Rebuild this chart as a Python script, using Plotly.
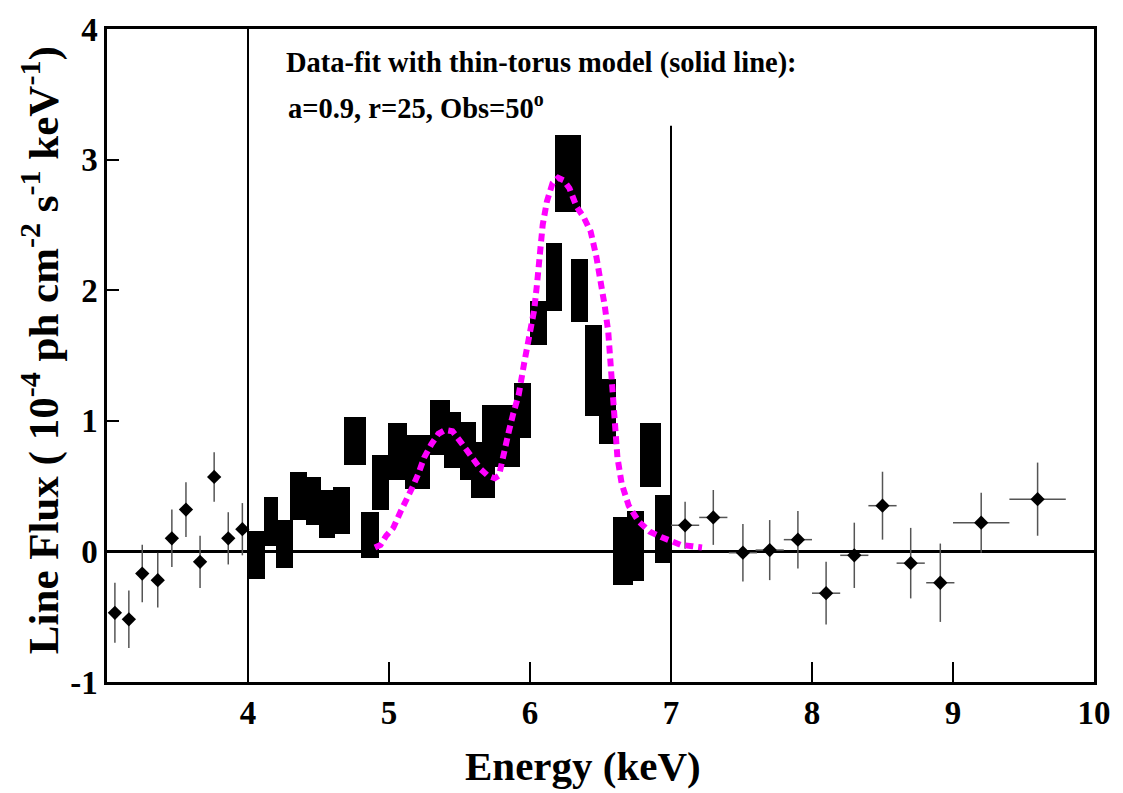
import plotly.graph_objects as go

# ---------------- data ----------------
# low-energy points (3-4 keV)
low_e = [3.056, 3.155, 3.25, 3.36, 3.46, 3.56, 3.66, 3.76, 3.86, 3.96]
low_f = [-0.47, -0.52, -0.17, -0.22, 0.10, 0.32, -0.08, 0.57, 0.10, 0.17]
low_ferr = [0.23, 0.22, 0.22, 0.21, 0.22, 0.21, 0.20, 0.19, 0.20, 0.20]
low_eerr = [0.03, 0.03, 0.03, 0.03, 0.03, 0.03, 0.03, 0.03, 0.03, 0.03]

# high-energy points (7-10 keV)
high_e = [7.10, 7.30, 7.51, 7.70, 7.90, 8.10, 8.30, 8.50, 8.70, 8.91, 9.20, 9.60]
high_f = [0.20, 0.26, -0.01, 0.01, 0.09, -0.32, -0.03, 0.35, -0.09, -0.24, 0.22, 0.40]
high_ferr = [0.18, 0.21, 0.22, 0.23, 0.22, 0.24, 0.25, 0.26, 0.27, 0.30, 0.23, 0.28]
high_eerr = [0.10, 0.10, 0.10, 0.10, 0.10, 0.10, 0.10, 0.10, 0.10, 0.10, 0.20, 0.20]

# line-region error boxes (4-7 keV)
box_e_lo = [3.99, 4.11, 4.20, 4.30, 4.41, 4.50, 4.60, 4.68, 4.80, 4.88, 4.99, 5.11, 5.29, 5.39, 5.50,
            5.58, 5.66, 5.82, 5.89, 6.00, 6.11, 6.18, 6.29, 6.39, 6.49, 6.59, 6.69, 6.78, 6.89]
box_e_hi = [4.12, 4.21, 4.32, 4.42, 4.52, 4.62, 4.72, 4.84, 4.93, 5.00, 5.13, 5.29, 5.43, 5.51, 5.62,
            5.75, 5.84, 5.93, 6.01, 6.12, 6.23, 6.36, 6.41, 6.51, 6.61, 6.73, 6.81, 6.93, 6.99]
box_f_lo = [-0.21, 0.04, -0.13, 0.24, 0.20, 0.10, 0.13, 0.66, -0.05, 0.32, 0.55, 0.48, 0.74, 0.64, 0.55,
            0.41, 0.65, 0.65, 0.87, 1.58, 1.84, 2.60, 1.76, 1.04, 0.82, -0.26, -0.23, 0.49, -0.09]
box_f_hi = [0.16, 0.42, 0.24, 0.61, 0.57, 0.47, 0.49, 1.03, 0.30, 0.74, 0.98, 0.89, 1.16, 1.07, 0.99,
            0.84, 1.12, 1.12, 1.29, 1.92, 2.36, 3.19, 2.24, 1.73, 1.32, 0.26, 0.31, 0.98, 0.43]

# thin-torus model curve
model_e = [4.90, 4.94, 4.98, 5.03, 5.08, 5.13, 5.17, 5.21, 5.25, 5.30, 5.35, 5.40, 5.45, 5.50, 5.55,
           5.60, 5.65, 5.70, 5.75, 5.78, 5.81, 5.85, 5.88, 5.92, 5.96, 6.00, 6.03, 6.05, 6.07, 6.09,
           6.12, 6.16, 6.20, 6.24, 6.28, 6.33, 6.38, 6.43, 6.47, 6.50, 6.53, 6.555, 6.57, 6.585, 6.60,
           6.62, 6.65, 6.70, 6.77, 6.85, 6.93, 7.00, 7.07, 7.15, 7.22]
model_f = [0.03, 0.05, 0.12, 0.18, 0.30, 0.40, 0.50, 0.60, 0.72, 0.82, 0.90, 0.93, 0.92, 0.85, 0.78,
           0.70, 0.63, 0.58, 0.56, 0.58, 0.75, 0.92, 1.05, 1.20, 1.45, 1.65, 1.85, 2.05, 2.30, 2.50,
           2.68, 2.82, 2.86, 2.84, 2.78, 2.64, 2.56, 2.45, 2.26, 2.08, 1.88, 1.68, 1.48, 1.25, 0.95,
           0.72, 0.52, 0.35, 0.23, 0.15, 0.11, 0.08, 0.05, 0.04, 0.03]

# analysis window edges (vertical reference lines)
window_e = [4.0, 7.0]
window_top = [4.0, 3.26]

x_ticks = [4, 5, 6, 7, 8, 9, 10]
y_ticks = [-1, 0, 1, 2, 3, 4]

FONT = "Liberation Serif"

fig = go.Figure()

# vertical window lines
for e, top in zip(window_e, window_top):
    fig.add_trace(go.Scatter(x=[e, e], y=[-1, top], mode="lines",
                             line=dict(color="black", width=2), showlegend=False, hoverinfo="skip"))

# error boxes
fig.add_trace(go.Bar(
    x=[(a + b) / 2 for a, b in zip(box_e_lo, box_e_hi)],
    width=[b - a for a, b in zip(box_e_lo, box_e_hi)],
    base=box_f_lo,
    y=[h - l for l, h in zip(box_f_lo, box_f_hi)],
    marker=dict(color="black", line=dict(width=0)),
    showlegend=False,
))

err_style = dict(type="data", color="#555555", thickness=1.5, width=0)
for xs, ys, xe, ye in [(low_e, low_f, low_eerr, low_ferr), (high_e, high_f, high_eerr, high_ferr)]:
    fig.add_trace(go.Scatter(
        x=xs, y=ys, mode="markers",
        marker=dict(symbol="diamond", size=11, color="black"),
        error_y=dict(array=ye, **err_style),
        error_x=dict(array=xe, **err_style),
        showlegend=False,
    ))

# model curve
fig.add_trace(go.Scatter(
    x=model_e, y=model_f, mode="lines",
    line=dict(color="#FF00FF", width=6, dash="8px,5px"),
    showlegend=False,
))

fig.update_layout(
    width=1123, height=793,
    margin=dict(l=107, r=23, t=20, b=111),
    paper_bgcolor="white", plot_bgcolor="white",
    barmode="overlay", bargap=0,
    font=dict(family=FONT, color="black", size=33, weight="bold"),
)

fig.update_xaxes(
    range=[3, 10], tickvals=x_ticks, ticktext=[str(t) for t in x_ticks],
    ticks="inside", ticklen=20, tickwidth=2, tickcolor="black",
    showline=True, linecolor="black", linewidth=2.5, mirror=True,
    showgrid=False, zeroline=False,
    tickfont=dict(family=FONT, size=33, weight="bold"),
)
fig.update_yaxes(
    range=[-1, 4], tickvals=y_ticks, ticktext=[str(t) for t in y_ticks],
    ticks="inside", ticklen=12, tickwidth=2, tickcolor="black",
    showline=True, linecolor="black", linewidth=2.5, mirror=True,
    showgrid=False, zeroline=True, zerolinecolor="black", zerolinewidth=2.5,
    tickfont=dict(family=FONT, size=33, weight="bold"),
)

annots = [
    dict(text="Data-fit with thin-torus model (solid line):", x=4.255, y=3.74,
         xref="x", yref="y", xanchor="left", yanchor="middle", showarrow=False,
         font=dict(family=FONT, size=28.5, weight="bold")),
    dict(text="a=0.9, r=25, Obs=50<sup>o</sup>", x=4.27, y=3.41,
         xref="x", yref="y", xanchor="left", yanchor="middle", showarrow=False,
         font=dict(family=FONT, size=28.5, weight="bold")),
    dict(text="Energy (keV)", x=0.482, y=-0.128, xref="paper", yref="paper",
         xanchor="center", yanchor="middle", showarrow=False,
         font=dict(family=FONT, size=41, weight="bold")),
    dict(text="Line Flux ( 10<sup>-4</sup> ph cm<sup>-2</sup> s<sup>-1</sup> keV<sup>-1</sup>)",
         x=-0.068, y=0.508, xref="paper", yref="paper", textangle=-90,
         xanchor="center", yanchor="middle", showarrow=False,
         font=dict(family=FONT, size=43, weight="bold")),
]
fig.update_layout(annotations=annots)

fig.write_html("out.html")
